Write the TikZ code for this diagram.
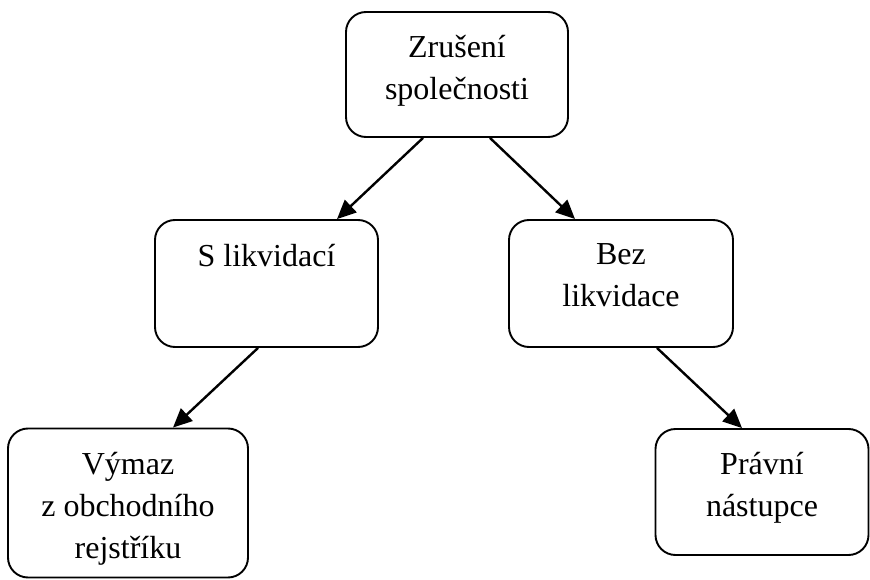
\documentclass[tikz,border=0pt]{standalone}
\usepackage{fontspec}
\setmainfont{Liberation Serif}
\usetikzlibrary{arrows.meta}
\begin{document}
\begin{tikzpicture}[x=1pt,y=-1pt,
  box/.style={draw,line width=1.9pt,rounded corners=20pt,inner sep=0pt},
  lbl/.style={anchor=base,align=center,inner sep=0pt,font=\fontsize{32}{42}\selectfont},
  arr/.style={line width=2.4pt,-{Triangle[length=19pt,width=17pt]}}]
\useasboundingbox (0,0) rectangle (870,580);
\node[box,minimum width=222pt,minimum height=125pt] (top) at (457,74.5) {};
\node[lbl] (topt) at ([yshift=-88pt]top.north) {Zrušení\\společnosti};
\node[box,minimum width=223pt,minimum height=127pt] (left) at (266.5,283.5) {};
\node[lbl] (leftt) at ([yshift=-47pt]left.north) {S likvidací};
\node[box,minimum width=224pt,minimum height=127pt] (right) at (621,283.5) {};
\node[lbl] (rightt) at ([yshift=-87pt]right.north) {Bez\\likvidace};
\node[box,minimum width=240pt,minimum height=149pt] (bl) at (128,503) {};
\node[lbl] (blt) at ([yshift=-131pt]bl.north) {Výmaz\\z obchodního\\rejstříku};
\node[box,minimum width=213pt,minimum height=126pt] (br) at (762,492) {};
\node[lbl] (brt) at ([yshift=-88pt]br.north) {Právní\\nástupce};
\draw[arr] ([xshift=-34pt]top.south) -- ([xshift=70.5pt]left.north);
\draw[arr] ([xshift=33pt]top.south) -- ([xshift=-46pt]right.north);
\draw[arr] ([xshift=-8.5pt]left.south) -- ([xshift=45pt]bl.north);
\draw[arr] ([xshift=36pt]right.south) -- ([xshift=-20pt]br.north);
\end{tikzpicture}
\end{document}
